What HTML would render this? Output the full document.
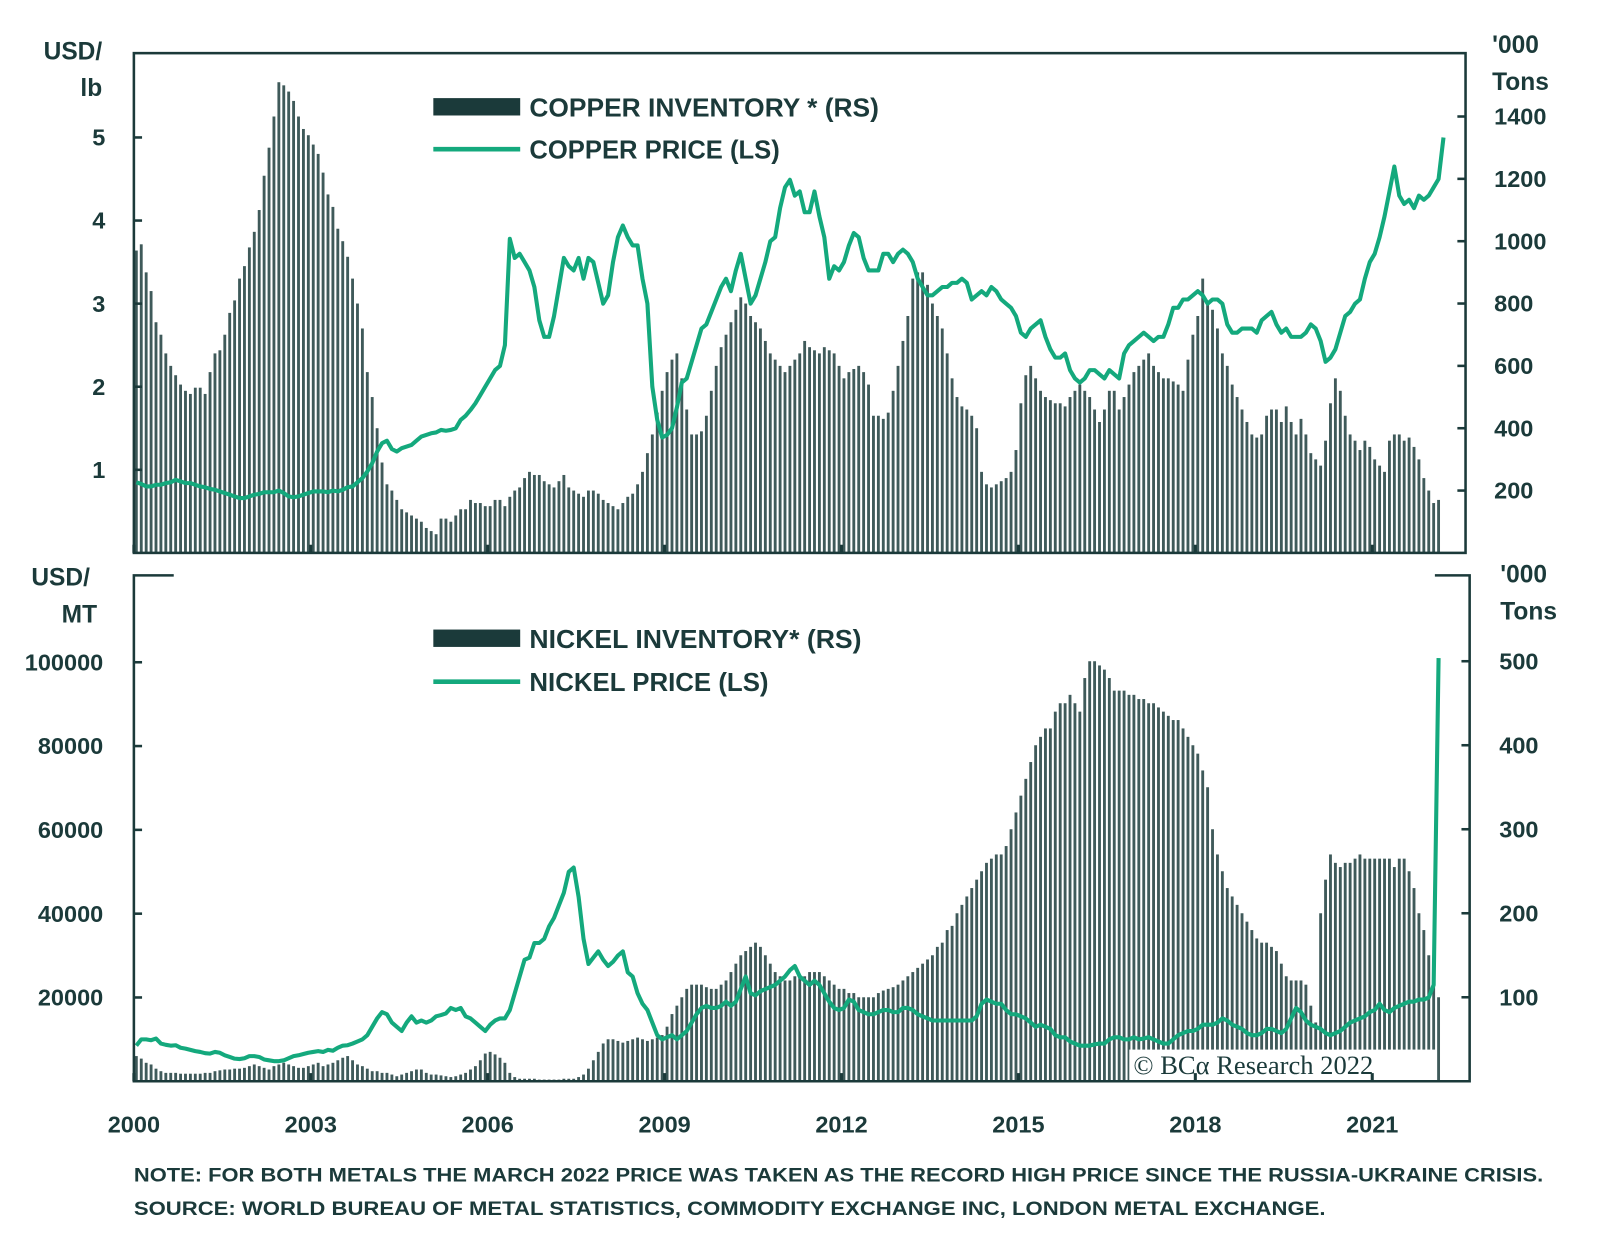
<!DOCTYPE html>
<html><head><meta charset="utf-8">
<style>
html,body{margin:0;padding:0;background:#fff;}
svg{display:block;font-family:"Liberation Sans",sans-serif;}
.t{font-weight:bold;fill:#1b3a3a;}
</style></head>
<body>
<svg id="chart" width="1600" height="1240" viewBox="0 0 1600 1240" xmlns="http://www.w3.org/2000/svg">
<g id="root" transform="scale(1.022)"></g>
</svg>
<script>
// Monthly data, Jan 2000 onward
const years = [2000,2003,2006,2009,2012,2015,2018,2021];
const copperInvTicks = [200,400,600,800,1000,1200,1400];
const copperPriceTicks = [1,2,3,4,5];
const nickelPriceTicks = [20000,40000,60000,80000,100000];
const nickelInvTicks = [100,200,300,400,500];
const copperInventory = [
970,990,900,840,740,700,640,600,570,540,520,510,
530,530,510,580,640,650,700,770,810,880,920,980,
1030,1100,1210,1300,1400,1510,1500,1480,1450,1400,1360,1340,
1310,1280,1220,1150,1110,1040,1000,950,880,800,720,580,
500,400,290,220,200,170,140,130,120,110,100,80,
70,60,110,110,100,120,140,140,170,160,160,150,
150,170,170,150,180,200,210,240,260,250,250,230,
220,210,230,250,210,200,190,180,200,200,190,170,
160,150,140,160,180,190,220,260,320,380,450,520,
580,620,640,560,460,380,380,390,440,520,600,660,
700,740,780,820,800,760,740,720,680,640,620,600,
580,600,620,640,680,660,650,640,660,650,640,600,
560,580,590,600,580,540,440,440,430,450,520,600,
680,760,880,900,900,860,800,760,720,640,560,500,
470,460,440,400,260,220,210,220,230,240,260,330,
480,570,600,560,520,500,490,480,480,470,500,520,
540,520,500,460,420,460,520,520,460,500,540,580,
600,620,640,600,580,560,560,550,540,520,620,700,
760,880,800,780,720,640,600,540,500,460,420,380,
370,380,440,460,460,420,470,420,380,430,380,320,
300,280,360,480,560,520,440,380,360,330,360,340,
300,280,260,360,380,380,360,370,340,300,240,200,
160,170];
const copperPrice = [
0.85,0.83,0.80,0.80,0.82,0.82,0.84,0.85,0.88,0.86,0.84,0.84,
0.82,0.80,0.79,0.77,0.76,0.74,0.72,0.70,0.68,0.66,0.66,0.68,
0.70,0.71,0.73,0.73,0.73,0.75,0.72,0.68,0.67,0.68,0.70,0.72,
0.74,0.74,0.74,0.73,0.75,0.74,0.76,0.79,0.80,0.85,0.90,0.98,
1.08,1.22,1.32,1.35,1.25,1.22,1.26,1.28,1.30,1.35,1.40,1.42,
1.44,1.45,1.48,1.47,1.48,1.50,1.60,1.65,1.72,1.80,1.90,2.00,
2.10,2.20,2.25,2.50,3.78,3.55,3.60,3.50,3.40,3.20,2.80,2.60,
2.60,2.85,3.20,3.55,3.45,3.40,3.55,3.30,3.55,3.50,3.25,3.00,
3.10,3.50,3.80,3.94,3.80,3.70,3.70,3.30,3.00,2.00,1.60,1.39,
1.42,1.50,1.75,2.05,2.10,2.30,2.50,2.70,2.75,2.90,3.05,3.20,
3.30,3.15,3.40,3.60,3.30,3.00,3.10,3.30,3.50,3.75,3.80,4.15,
4.40,4.49,4.30,4.35,4.10,4.10,4.35,4.05,3.80,3.30,3.45,3.40,
3.50,3.70,3.85,3.80,3.55,3.40,3.40,3.40,3.60,3.60,3.50,3.60,
3.65,3.60,3.50,3.30,3.20,3.10,3.10,3.15,3.20,3.20,3.25,3.25,
3.30,3.25,3.05,3.10,3.15,3.10,3.20,3.15,3.05,3.00,2.95,2.85,
2.65,2.60,2.70,2.75,2.80,2.60,2.45,2.35,2.35,2.40,2.20,2.10,
2.05,2.10,2.20,2.20,2.15,2.10,2.20,2.15,2.10,2.40,2.50,2.55,
2.60,2.65,2.60,2.55,2.60,2.60,2.75,2.95,2.95,3.05,3.05,3.10,
3.15,3.10,3.00,3.05,3.05,3.00,2.75,2.65,2.65,2.70,2.70,2.70,
2.65,2.80,2.85,2.90,2.75,2.65,2.70,2.60,2.60,2.60,2.65,2.75,
2.70,2.55,2.30,2.35,2.45,2.65,2.85,2.90,3.00,3.05,3.30,3.50,
3.60,3.80,4.05,4.35,4.65,4.30,4.20,4.25,4.15,4.30,4.25,4.30,
4.40,4.50,5.00];
const nickelInventory = [
30,27,22,20,15,12,10,10,10,9,9,9,
9,9,10,10,12,13,14,14,15,15,16,18,
20,18,16,14,18,20,22,20,18,16,16,18,
20,22,18,20,22,25,28,30,25,20,18,15,
12,12,10,10,8,6,8,10,12,14,14,10,
8,8,7,6,5,6,8,10,14,18,25,33,
35,32,28,22,10,5,3,3,3,3,2,2,
2,2,2,3,3,3,5,8,15,25,35,45,
50,50,48,46,48,50,52,50,48,50,52,55,
65,80,90,100,110,115,115,115,112,110,110,115,
120,130,140,150,155,160,165,160,150,140,130,125,
120,120,125,125,125,130,130,130,125,120,115,110,
110,105,105,100,100,100,100,105,108,110,112,115,
120,125,130,135,140,145,150,160,165,180,185,200,
210,220,230,240,250,260,265,270,270,280,300,320,
340,360,380,400,410,420,420,440,450,450,460,450,
440,480,500,500,495,490,480,465,465,465,460,460,
455,455,450,450,445,440,435,430,430,420,410,400,
390,370,350,300,270,250,230,220,210,200,190,180,
170,165,165,160,155,140,125,120,120,120,115,90,
70,200,240,270,260,255,260,260,265,270,265,265,
265,265,265,265,255,265,265,250,230,200,180,150,
120,100];
const nickelPrice = [
8500,10000,10000,9800,10200,9000,8700,8500,8600,8000,7800,7500,
7200,7000,6700,6600,7000,6800,6200,5800,5400,5300,5500,6000,
6000,5800,5200,5000,4800,4800,5000,5500,6000,6200,6500,6800,
7000,7200,7000,7500,7300,8000,8500,8600,9000,9500,10000,11000,
13000,15000,16500,16000,14000,13000,12000,14000,15500,14000,14500,14000,
14500,15500,15800,16200,17500,17000,17500,15500,15000,14000,13000,12000,
13500,14500,15000,15000,17000,21000,25000,29000,29500,33000,33000,34000,
37000,39000,42000,45000,50000,51000,44000,34000,28000,29500,31000,29000,
27500,28500,30000,31000,26000,25000,21000,18500,17000,14000,11000,10000,
10500,11000,10000,11000,12000,14000,16000,17500,18000,17500,17500,18000,
19000,18000,19000,22000,25000,21000,20500,21500,22000,22500,23000,24000,
25000,26500,27500,25000,24000,23000,24000,23000,21000,19000,17500,17000,
17500,19500,19000,17000,16500,16000,16000,16500,17000,17000,16500,16500,
17500,17500,17000,16000,15500,15000,14500,14500,14500,14500,14500,14500,
14500,14500,14500,15500,18500,19500,19000,18500,18500,17000,16000,16000,
15500,15000,14000,13000,13500,13000,12500,11000,10500,10500,9500,9000,
8500,8500,8500,8800,9000,9000,10000,10500,10500,10000,10000,10500,
10000,10200,10500,10000,9500,9000,9000,10000,11000,11500,12000,12000,
12500,13500,13500,13500,14000,15000,14500,13500,13000,12500,11500,11000,
11000,11500,12500,12500,12000,11500,12500,15000,17500,16500,14500,13500,
13000,12500,11500,11000,11500,12000,13000,14000,14500,15000,15500,16500,
17000,18500,17000,16500,17500,18000,18500,19000,19000,19500,19500,20000,
23000,101000];

const NS="http://www.w3.org/2000/svg";
const root=document.getElementById('root');
const DARK="#1b3a3a", GREEN="#14a97d", BAR="#3f5a5a";
function mk(tag,attrs,parent){const e=document.createElementNS(NS,tag);for(const k in attrs)e.setAttribute(k,attrs[k]);(parent||root).appendChild(e);return e;}
const X0=131, PXY=57.7;
function xYear(y){return X0+(y-2000)*PXY;}
function xMonth(i){return X0+(i+0.5)*PXY/12;}
const topS={yl:v=>541-v*81.3, yr:v=>541-v*0.305};
const botS={yl:v=>1058-v*0.0041, yr:v=>1058-v*0.822};

function text(str,x,y,size,anchor,name,extra){
  const t=mk('text',Object.assign({x:x,y:y,'font-size':size,'text-anchor':anchor||'start',class:'t'},extra||{}));
  t.textContent=str;
  
  
  return t;
}

// copper panel
(function(){
  const g=mk('g',{});
  
  
  copperInventory.forEach((v,i)=>{
    const y=topS.yr(v);
    const r=mk('rect',{x:(xMonth(i)-1.4).toFixed(2),y:y.toFixed(2),width:2.8,height:(541-y).toFixed(2),fill:BAR},g);
    
    
  });
  const d=copperPrice.map((v,i)=>(i?'L':'M')+xMonth(i).toFixed(2)+' '+topS.yl(v).toFixed(2)).join(' ');
  const l=mk('path',{d:d,fill:'none',stroke:GREEN,'stroke-width':4,'stroke-linejoin':'round'},g);
  
  
})();

// nickel panel
(function(){
  const g=mk('g',{});
  
  
  nickelInventory.forEach((v,i)=>{
    const y=botS.yr(v);
    const r=mk('rect',{x:(xMonth(i)-1.4).toFixed(2),y:y.toFixed(2),width:2.8,height:(1058-y).toFixed(2),fill:BAR},g);
    
    
  });
  const wb=mk('rect',{x:1105,y:1027,width:300,height:30,fill:'#fff'},g);
  
  
  const wt=mk('text',{x:1109,y:1051,'font-size':26,fill:DARK,'font-family':'"Liberation Serif",serif'},g);
  wt.textContent='© BCα Research 2022';
  
  
  const d=nickelPrice.map((v,i)=>(i?'L':'M')+xMonth(i).toFixed(2)+' '+botS.yl(v).toFixed(2)).join(' ');
  const l=mk('path',{d:d,fill:'none',stroke:GREEN,'stroke-width':4,'stroke-linejoin':'round'},g);
  
  
})();

// frames
const f1=mk('rect',{x:131,y:52,width:1303,height:489,fill:'none',stroke:DARK,'stroke-width':2.5});


const f2=mk('path',{d:'M170 563 L131 563 L131 1058 L1438 1058 L1438 563 L1404 563',fill:'none',stroke:DARK,'stroke-width':2.5});



// ticks + labels
copperPriceTicks.forEach(v=>{const y=topS.yl(v);mk('line',{x1:131,x2:139,y1:y,y2:y,stroke:DARK,'stroke-width':2.5});text(String(v),103,y+8,23,'end','copper-price-tick-label');});
copperInvTicks.forEach(v=>{const y=topS.yr(v);mk('line',{x1:1426,x2:1434,y1:y,y2:y,stroke:DARK,'stroke-width':2.5});text(String(v),1462,y+8,23,'start','copper-inventory-tick-label');});
nickelPriceTicks.forEach(v=>{const y=botS.yl(v);mk('line',{x1:131,x2:139,y1:y,y2:y,stroke:DARK,'stroke-width':2.5});text(String(v),101,y+8,23,'end','nickel-price-tick-label');});
nickelInvTicks.forEach(v=>{const y=botS.yr(v);mk('line',{x1:1430,x2:1438,y1:y,y2:y,stroke:DARK,'stroke-width':2.5});text(String(v),1467,y+8,23,'start','nickel-inventory-tick-label');});
years.forEach(yr=>{const x=xYear(yr);
  mk('line',{x1:x,x2:x,y1:533,y2:541,stroke:DARK,'stroke-width':3});
  mk('line',{x1:x,x2:x,y1:1050,y2:1058,stroke:DARK,'stroke-width':3});
  text(String(yr),x,1108,23,'middle','x-axis-year-label');});

// axis titles
text('USD/',100,58,24,'end','copper-left-axis-title');
text('lb',100,94,24,'end','copper-left-axis-unit');
text("'000",1460,52,24,'start','copper-right-axis-title');
text('Tons',1460,88,24,'start','copper-right-axis-unit');
text('USD/',88,573,24,'end','nickel-left-axis-title');
text('MT',95,609,24,'end','nickel-left-axis-unit');
text("'000",1468,570,24,'start','nickel-right-axis-title');
text('Tons',1468,606,24,'start','nickel-right-axis-unit');

// legends
function legend(y1,y2,s1,s2,w1,w2,name){
  const r=mk('rect',{x:424,y:y1-9,width:85,height:17,fill:DARK});
  
  
  text(s1,518,y1+9,25,'start',name+'-inventory-legend-label',{textLength:w1,lengthAdjust:'spacingAndGlyphs'});
  const l=mk('line',{x1:424,x2:509,y1:y2,y2:y2,stroke:GREEN,'stroke-width':4.5});
  
  
  text(s2,518,y2+9,25,'start',name+'-price-legend-label',{textLength:w2,lengthAdjust:'spacingAndGlyphs'});
}
legend(105,146,'COPPER INVENTORY * (RS)','COPPER PRICE (LS)',342,245,'copper');
legend(625,667,'NICKEL INVENTORY* (RS)','NICKEL PRICE (LS)',325,234,'nickel');

// notes
text('NOTE: FOR BOTH METALS THE MARCH 2022 PRICE WAS TAKEN AS THE RECORD HIGH PRICE SINCE THE RUSSIA-UKRAINE CRISIS.',131,1156,19,'start','note-text',{textLength:1379,lengthAdjust:'spacingAndGlyphs'});
text('SOURCE: WORLD BUREAU OF METAL STATISTICS, COMMODITY EXCHANGE INC, LONDON METAL EXCHANGE.',131,1189,19,'start','source-text',{textLength:1166,lengthAdjust:'spacingAndGlyphs'});
</script>
</body></html>
